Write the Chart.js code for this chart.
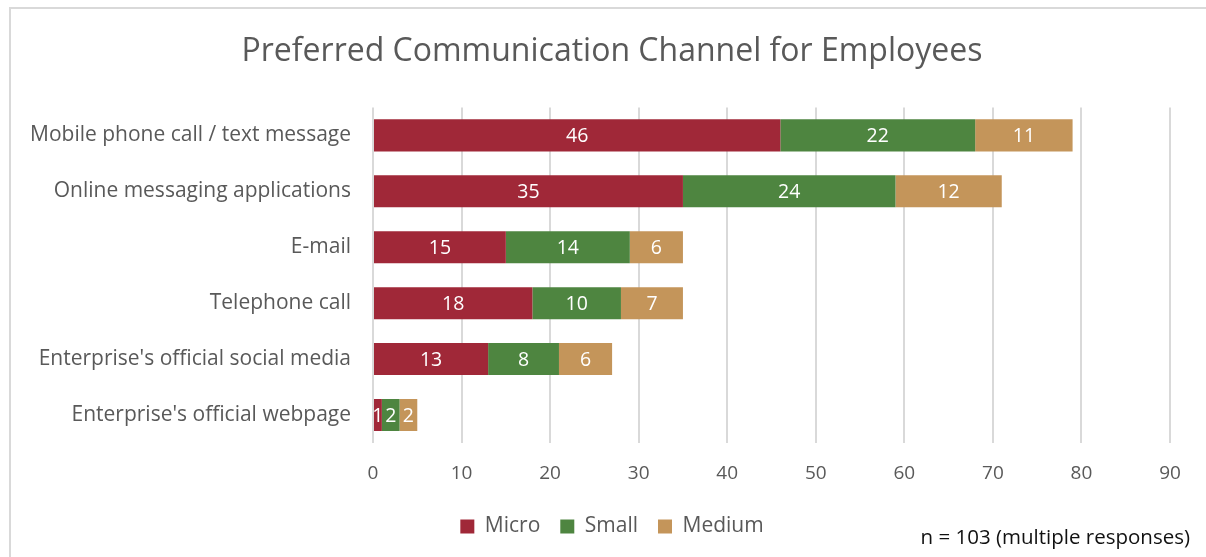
<!DOCTYPE html>
<html>
<head>
<meta charset="utf-8">
<script src="https://cdn.jsdelivr.net/npm/chart.js@4.4.0/dist/chart.umd.min.js"></script>
<style>
	html, body { margin: 0; padding: 0; background: #fff; overflow: hidden; }
	.wrap { position: relative; width: 1206px; height: 557px; }
	.frame { position: absolute; left: 9px; top: 7px; width: 1300px; height: 700px; border: 2px solid #d9d9d9; box-sizing: border-box; }
	canvas { position: absolute; left: 0; top: 0; }
	.note { position: absolute; right: 16px; top: 522px; font: 20.5px "Open Sans", sans-serif; color: #111; }
</style>
</head>
<body>
<div class="wrap">
	<div class="frame"></div>
	<canvas id="chart" width="1206" height="557"></canvas>
	<div class="note">n = 103 (multiple responses)</div>
</div>
<script>
const categories = [
	'Mobile phone call / text message',
	'Online messaging applications',
	'E-mail',
	'Telephone call',
	"Enterprise's official social media",
	"Enterprise's official webpage"
]
const micro = [46, 35, 15, 18, 13, 1]
const small = [22, 24, 14, 10, 8, 2]
const medium = [11, 12, 6, 7, 6, 2]
const xTicks = [0, 10, 20, 30, 40, 50, 60, 70, 80, 90]

const FONT = '"Open Sans", sans-serif'
const GREY = '#595959'

// white value inside each stacked segment
const segmentLabels = {
	id: 'segmentLabels',
	afterDatasetsDraw(chart) {
		const ctx = chart.ctx
		ctx.save()
		ctx.font = '19.5px ' + FONT
		ctx.fillStyle = '#fff'
		ctx.textAlign = 'center'
		ctx.textBaseline = 'middle'
		chart.data.datasets.forEach((ds, i) => {
			const meta = chart.getDatasetMeta(i)
			meta.data.forEach((bar, j) => {
				const v = ds.data[j]
				if(!v) return
				ctx.fillText(String(v), (bar.x + bar.base) / 2, bar.y + 1)
			})
		})
		ctx.restore()
	}
}

new Chart(document.getElementById('chart'), {
	type: 'bar',
	data: {
		labels: categories,
		datasets: [
			{label: 'Micro', data: micro, backgroundColor: '#a02838'},
			{label: 'Small', data: small, backgroundColor: '#4e8540'},
			{label: 'Medium', data: medium, backgroundColor: '#c4955a'}
		]
	},
	options: {
		indexAxis: 'y',
		responsive: false,
		animation: false,
		layout: {padding: {left: 25, right: 7, top: 0, bottom: 10}},
		datasets: {bar: {barPercentage: 0.573, categoryPercentage: 1}},
		scales: {
			x: {
				stacked: true,
				min: 0,
				max: 90,
				afterBuildTicks(scale) { scale.ticks = xTicks.map(v => ({value: v})) },
				afterFit(scale) { scale.height = 53 },
				grid: {color: '#d9d9d9', lineWidth: 2, drawTicks: false},
				border: {display: false},
				ticks: {color: GREY, font: {family: FONT, size: 19}, padding: 19}
			},
			y: {
				stacked: true,
				afterFit(scale) { scale.width = 348 },
				grid: {display: false, drawTicks: false},
				border: {display: false},
				ticks: {color: GREY, font: {family: FONT, size: 21}, padding: 22}
			},
			// empty right-hand gutter so the plot ends at 90 with room for its label
			gutter: {
				type: 'linear',
				position: 'right',
				afterFit(scale) { scale.width = 29 },
				grid: {display: false, drawTicks: false},
				border: {display: false},
				ticks: {display: false}
			}
		},
		plugins: {
			title: {
				display: true,
				text: 'Preferred Communication Channel for Employees',
				color: GREY,
				font: {family: FONT, size: 32, weight: 'normal'},
				padding: {top: 33, bottom: 36}
			},
			legend: {
				position: 'bottom',
				labels: {
					color: GREY,
					font: {family: FONT, size: 21},
					boxWidth: 14,
					boxHeight: 14,
					padding: 20
				}
			},
			tooltip: {enabled: false}
		}
	},
	plugins: [segmentLabels]
})
</script>
</body>
</html>
